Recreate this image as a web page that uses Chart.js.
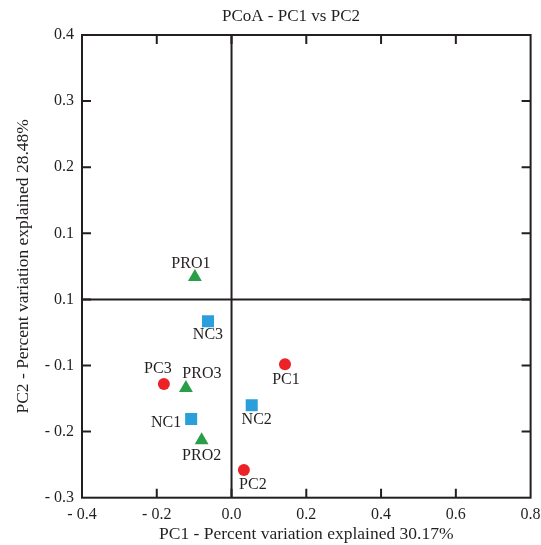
<!DOCTYPE html>
<html>
<head>
<meta charset="utf-8">
<script src="https://cdn.jsdelivr.net/npm/chart.js@4.4.1/dist/chart.umd.min.js"></script>
<style>
html,body{margin:0;padding:0;background:#fff;}
#wrap{width:541px;height:545px;position:relative;}
</style>
</head>
<body>
<div id="wrap"><canvas id="c"></canvas></div>
<script>
// ---- data ----
const sampleNames = ['PC1','PC2','PC3','NC1','NC2','NC3','PRO1','PRO2','PRO3'];
const pc1Values   = [0.143, 0.033, -0.181, -0.108, 0.054, -0.063, -0.098, -0.080, -0.122];
const pc2Values   = [-0.098, -0.258, -0.128, -0.181, -0.160, -0.033, 0.034, -0.213, -0.134];
const groupNames  = ['PC','NC','PRO'];
const xTickValues = [-0.4, -0.2, 0.0, 0.2, 0.4, 0.6, 0.8];
const xTickLabels = ['- 0.4','- 0.2','0.0','0.2','0.4','0.6','0.8'];
const yTickValues = [-0.3, -0.2, -0.1, 0.0, 0.1, 0.2, 0.3, 0.4];
const yTickLabels = ['- 0.3','- 0.2','- 0.1','0.1','0.1','0.2','0.3','0.4'];
const chartTitle  = 'PCoA - PC1 vs PC2';
const xAxisTitle  = 'PC1 - Percent variation explained 30.17%';
const yAxisTitle  = 'PC2 - Percent variation explained 28.48%';

// ---- styles ----
const groupStyle = {
  PC:  {color:'#ec2227', shape:'circle',   radius:6},
  NC:  {color:'#2b9fdc', shape:'rect',     radius:8.5},
  PRO: {color:'#2a9d48', shape:'triangle', radius:8}
};
const labelOffset = {
  PC1:[1,16], PC2:[9,15], PC3:[-6,-15],
  NC1:[-25,4], NC2:[5,15], NC3:[0,14],
  PRO1:[-4,-13], PRO2:[0,16], PRO3:[16,-14]
};
const FONT = '"Liberation Serif","Times New Roman",serif';
const INK = '#231f20';

const datasets = groupNames.map(g => {
  const idx = sampleNames.map((n,i)=>i).filter(i => {
    const n = sampleNames[i];
    return g === 'PC' ? (n.startsWith('PC')) : n.startsWith(g);
  });
  const st = groupStyle[g];
  return {
    label: g,
    names: idx.map(i => sampleNames[i]),
    data: idx.map(i => ({x: pc1Values[i], y: pc2Values[i]})),
    pointStyle: st.shape,
    pointRadius: st.radius,
    pointHoverRadius: st.radius,
    backgroundColor: st.color,
    borderColor: st.color,
    borderWidth: 0
  };
});

const framePlugin = {
  id: 'frame',
  beforeDatasetsDraw(chart) {
    const {ctx, chartArea:a, scales:{x, y}} = chart;
    ctx.save();
    ctx.strokeStyle = INK;
    ctx.lineWidth = 2;
    ctx.lineCap = 'butt';
    const x0 = x.getPixelForValue(0), y0 = y.getPixelForValue(0);
    ctx.beginPath();
    ctx.moveTo(x0, a.top); ctx.lineTo(x0, a.bottom);
    ctx.moveTo(a.left, y0); ctx.lineTo(a.right, y0);
    ctx.stroke();
    const tl = 9;
    ctx.beginPath();
    xTickValues.forEach(v => {
      const px = x.getPixelForValue(v);
      if (Math.abs(px - a.left) < 1 || Math.abs(px - a.right) < 1) return;
      ctx.moveTo(px, a.top); ctx.lineTo(px, a.top + tl);
      ctx.moveTo(px, a.bottom); ctx.lineTo(px, a.bottom - tl);
    });
    yTickValues.forEach(v => {
      const py = y.getPixelForValue(v);
      if (Math.abs(py - a.top) < 1 || Math.abs(py - a.bottom) < 1) return;
      ctx.moveTo(a.left, py); ctx.lineTo(a.left + tl, py);
      ctx.moveTo(a.right, py); ctx.lineTo(a.right - tl, py);
    });
    ctx.stroke();
    ctx.strokeRect(a.left, a.top, a.right - a.left, a.bottom - a.top);
    ctx.restore();
  },
  afterDatasetsDraw(chart) {
    const ctx = chart.ctx;
    ctx.save();
    ctx.fillStyle = INK;
    ctx.font = '16px ' + FONT;
    ctx.textAlign = 'center';
    ctx.textBaseline = 'middle';
    chart.data.datasets.forEach((ds, di) => {
      const meta = chart.getDatasetMeta(di);
      meta.data.forEach((el, i) => {
        const n = ds.names[i];
        const off = labelOffset[n] || [0, 14];
        ctx.fillText(n, el.x + off[0], el.y + off[1]);
      });
    });
    ctx.font = '17px ' + FONT;
    ctx.fillText(chartTitle, 291, 17);
    ctx.restore();
  }
};

new Chart(document.getElementById('c'), {
  type: 'scatter',
  data: { datasets },
  options: {
    responsive: true,
    maintainAspectRatio: false,
    animation: false,
    layout: { padding: { top: 35, right: 10.4, bottom: 0, left: 0 } },
    plugins: { legend: {display:false}, tooltip: {enabled:false}, title: {display:false} },
    scales: {
      x: {
        type: 'linear', min: -0.4, max: 0.8,
        afterBuildTicks: s => { s.ticks = xTickValues.map(v => ({value: v})); },
        afterFit: s => { s.height = 47.3; s.paddingLeft = 0; s.paddingRight = 0; },
        grid: { display: false, drawTicks: false },
        border: { display: false },
        ticks: {
          padding: 7, color: INK, font: {family: FONT, size: 16},
          maxRotation: 0, autoSkip: false,
          callback: (v, i) => xTickLabels[i]
        },
        title: { display: true, text: xAxisTitle, color: INK, font: {family: FONT, size: 17.5}, padding: {top: 0, bottom: 0} }
      },
      y: {
        type: 'linear', min: -0.3, max: 0.4,
        afterBuildTicks: s => { s.ticks = yTickValues.map(v => ({value: v})); },
        afterFit: s => { s.width = 82; s.paddingTop = 0; s.paddingBottom = 0; },
        grid: { display: false, drawTicks: false },
        border: { display: false },
        ticks: {
          padding: 8, color: INK, font: {family: FONT, size: 16},
          autoSkip: false,
          callback: (v, i) => yTickLabels[i]
        },
        title: { display: true, text: yAxisTitle, color: INK, font: {family: FONT, size: 17.5}, padding: {top: 13, bottom: 0} }
      }
    }
  },
  plugins: [framePlugin]
});
</script>
</body>
</html>
